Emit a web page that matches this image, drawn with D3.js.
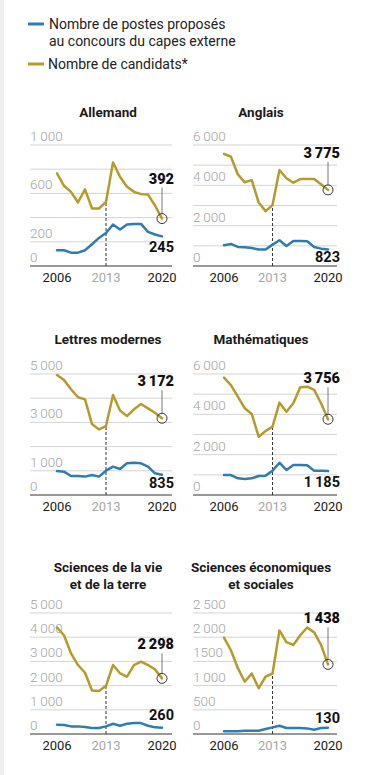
<!DOCTYPE html>
<html>
<head>
<meta charset="utf-8">
<script src="https://cdn.jsdelivr.net/npm/d3@7"></script>
<style>
  html, body { margin: 0; padding: 0; background: #fff; }
  svg { display: block; font-family: Roboto, "Noto Sans", sans-serif; }
</style>
</head>
<body>
<svg id="chart" width="376" height="775"></svg>
<script>
/* ── Data ─────────────────────────────────────────────── */
// 16 sessions: 2014 had an extra (exceptional) session
const sessions = ["2006","2007","2008","2009","2010","2011","2012","2013",
                  "2014 exc.","2014","2015","2016","2017","2018","2019","2020"];
const yearTicks = ["2006", "2013", "2020"];

const subjects = [
  ["Allemand"],
  ["Anglais"],
  ["Lettres modernes"],
  ["Mathématiques"],
  ["Sciences de la vie", "et de la terre"],
  ["Sciences économiques", "et sociales"],
];

// Nombre de candidats
const candidats = [
  [765, 663, 613, 525, 633, 475, 475, 530, 856, 738, 655, 613, 594, 590, 500, 392],
  [5555, 5420, 4540, 4150, 4260, 3150, 2720, 3020, 4760, 4350, 4130, 4310, 4310, 4310, 4050, 3775],
  [4960, 4750, 4370, 4040, 3950, 2930, 2710, 2850, 4130, 3490, 3260, 3540, 3760, 3580, 3400, 3172],
  [5820, 5450, 4880, 4300, 4020, 2890, 3170, 3390, 4580, 4130, 4550, 5340, 5370, 5210, 4550, 3756],
  [4400, 4080, 3330, 2850, 2530, 1800, 1780, 1990, 2850, 2510, 2370, 2850, 2990, 2850, 2670, 2298],
  [1990, 1730, 1360, 1080, 1250, 945, 1185, 1250, 2140, 1900, 1840, 2040, 2200, 2100, 1840, 1438],
];

// Nombre de postes proposés
const postes = [
  [130, 130, 110, 110, 130, 180, 232, 273, 343, 301, 343, 348, 348, 282, 260, 245],
  [1030, 1095, 945, 930, 895, 815, 815, 1060, 1280, 995, 1245, 1245, 1225, 945, 860, 823],
  [990, 965, 785, 785, 760, 825, 760, 1005, 1170, 1075, 1310, 1335, 1310, 1170, 895, 835],
  [990, 990, 825, 795, 825, 940, 960, 1205, 1600, 1240, 1490, 1490, 1470, 1205, 1205, 1185],
  [385, 370, 315, 315, 290, 250, 250, 315, 425, 340, 425, 450, 450, 340, 275, 260],
  [55, 55, 55, 68, 68, 68, 103, 137, 171, 123, 123, 123, 116, 89, 123, 130],
];

const yMax    = [1000, 6000, 5000, 6000, 5000, 2500];
const yStep   = [200, 1000, 1000, 1000, 1000, 500];
const yLabels = [
  [0, 200, 600, 1000],
  [0, 2000, 4000, 6000],
  [0, 1000, 3000, 5000],
  [0, 2000, 4000, 6000],
  [0, 1000, 2000, 3000, 4000, 5000],
  [0, 500, 1000, 1500, 2000, 2500],
];

/* ── Layout ───────────────────────────────────────────── */
const GOLD = '#b69a2c';
const BLUE = '#2f7cb2';
const PH   = 121;
const COLS = [
  { gx0: 30,  gx1: 172, dx0: 57,  dx1: 162, tx: 108 },
  { gx0: 193, gx1: 337, dx0: 224, dx1: 328, tx: 261 },
];
const ROWS = [
  { top: 145, title: [117] },
  { top: 374, title: [344] },
  { top: 613, title: [572, 589] },
];
const goldLabelDy = [-35, -32, -32, -36, -29, -41];
const blueLabelDy = [16, 13, 13, 16, -8, -5];

const fr  = d3.formatLocale({ decimal: ',', thousands: '\u2009', grouping: [3], currency: ['', ' €'] });
const fmt = fr.format(',d');

const svg = d3.select('#chart');

// faint page edge on the left
svg.append('rect').attr('x', 0).attr('y', 0).attr('width', 4).attr('height', 775).attr('fill', '#efefef');

/* ── Legend ───────────────────────────────────────────── */
const legend = svg.append('g').style('font-size', '14px').style('fill', '#222');
legend.append('line').attr('x1', 28).attr('x2', 44).attr('y1', 24).attr('y2', 24)
  .attr('stroke', BLUE).attr('stroke-width', 3);
legend.append('text').attr('x', 49).attr('y', 29).text('Nombre de postes proposés');
legend.append('text').attr('x', 49).attr('y', 46).text('au concours du capes externe');
legend.append('line').attr('x1', 28).attr('x2', 44).attr('y1', 64).attr('y2', 64)
  .attr('stroke', GOLD).attr('stroke-width', 3);
legend.append('text').attr('x', 48).attr('y', 69).text('Nombre de candidats*');

/* ── Panels ───────────────────────────────────────────── */
subjects.forEach((title, i) => {
  const col = COLS[i % 2];
  const row = ROWS[Math.floor(i / 2)];
  const base = row.top + PH;

  const x = d3.scalePoint().domain(sessions).range([col.dx0, col.dx1]);
  const y = d3.scaleLinear().domain([0, yMax[i]]).range([base, row.top]);

  const g = svg.append('g');

  // title
  title.forEach((t, k) => {
    g.append('text')
      .attr('x', col.tx).attr('y', row.title[k])
      .attr('text-anchor', 'middle')
      .style('font-size', '13.5px').style('font-weight', 700).style('fill', '#1a1a1a')
      .text(t);
  });

  // gridlines
  g.selectAll('line.grid')
    .data(d3.range(0, yMax[i] + 1, yStep[i]))
    .join('line')
    .attr('class', 'grid')
    .attr('x1', col.gx0).attr('x2', col.gx1)
    .attr('y1', d => y(d)).attr('y2', d => y(d))
    .attr('stroke', d => d === 0 ? '#333' : '#d4d4d4')
    .attr('stroke-width', 1);

  // y tick labels
  g.selectAll('text.ytick')
    .data(yLabels[i])
    .join('text')
    .attr('class', 'ytick')
    .attr('x', col.gx0).attr('y', d => y(d) - 4)
    .style('font-size', '13.5px').style('font-weight', 300).style('fill', '#a3a3a3')
    .text(d => d === 1500 ? '1500' : fmt(d));

  // year labels
  g.selectAll('text.xtick')
    .data(yearTicks)
    .join('text')
    .attr('class', 'xtick')
    .attr('x', d => x(d)).attr('y', base + 16)
    .attr('text-anchor', 'middle')
    .style('font-size', '13px')
    .style('fill', d => d === '2013' ? '#a8a8a8' : '#1a1a1a')
    .text(d => d);

  // 2013 marker
  g.append('line')
    .attr('x1', x('2013')).attr('x2', x('2013'))
    .attr('y1', base).attr('y2', y(candidats[i][sessions.indexOf('2013')]))
    .attr('stroke', '#333').attr('stroke-width', 1).attr('stroke-dasharray', '3,2');

  const line = d3.line()
    .x((d, j) => x(sessions[j]))
    .y(d => y(d));

  g.append('path').datum(postes[i])
    .attr('d', line).attr('fill', 'none')
    .attr('stroke', BLUE).attr('stroke-width', 2.5)
    .attr('stroke-linejoin', 'round').attr('stroke-linecap', 'round');

  g.append('path').datum(candidats[i])
    .attr('d', line).attr('fill', 'none')
    .attr('stroke', GOLD).attr('stroke-width', 2.5)
    .attr('stroke-linejoin', 'round').attr('stroke-linecap', 'round');

  // end annotations
  const last = sessions[sessions.length - 1];
  const gv = candidats[i][candidats[i].length - 1];
  const bv = postes[i][postes[i].length - 1];
  const px = x(last), gy = y(gv), by = y(bv);
  const r = 5;
  const ly = gy + goldLabelDy[i];

  g.append('circle')
    .attr('cx', px).attr('cy', gy).attr('r', r)
    .attr('fill', 'none').attr('stroke', '#222').attr('stroke-width', 0.9);

  g.append('line')
    .attr('x1', px).attr('x2', px)
    .attr('y1', ly + 4).attr('y2', gy - r)
    .attr('stroke', '#555').attr('stroke-width', 0.8);

  g.append('text')
    .attr('x', px + 12).attr('y', ly)
    .attr('text-anchor', 'end')
    .style('font-size', '14.5px').style('font-weight', 900).style('fill', '#111')
    .text(fmt(gv));

  g.append('text')
    .attr('x', px + 12).attr('y', by + blueLabelDy[i])
    .attr('text-anchor', 'end')
    .style('font-size', '14.5px').style('font-weight', 700).style('fill', '#111')
    .text(fmt(bv));
});
</script>
</body>
</html>
